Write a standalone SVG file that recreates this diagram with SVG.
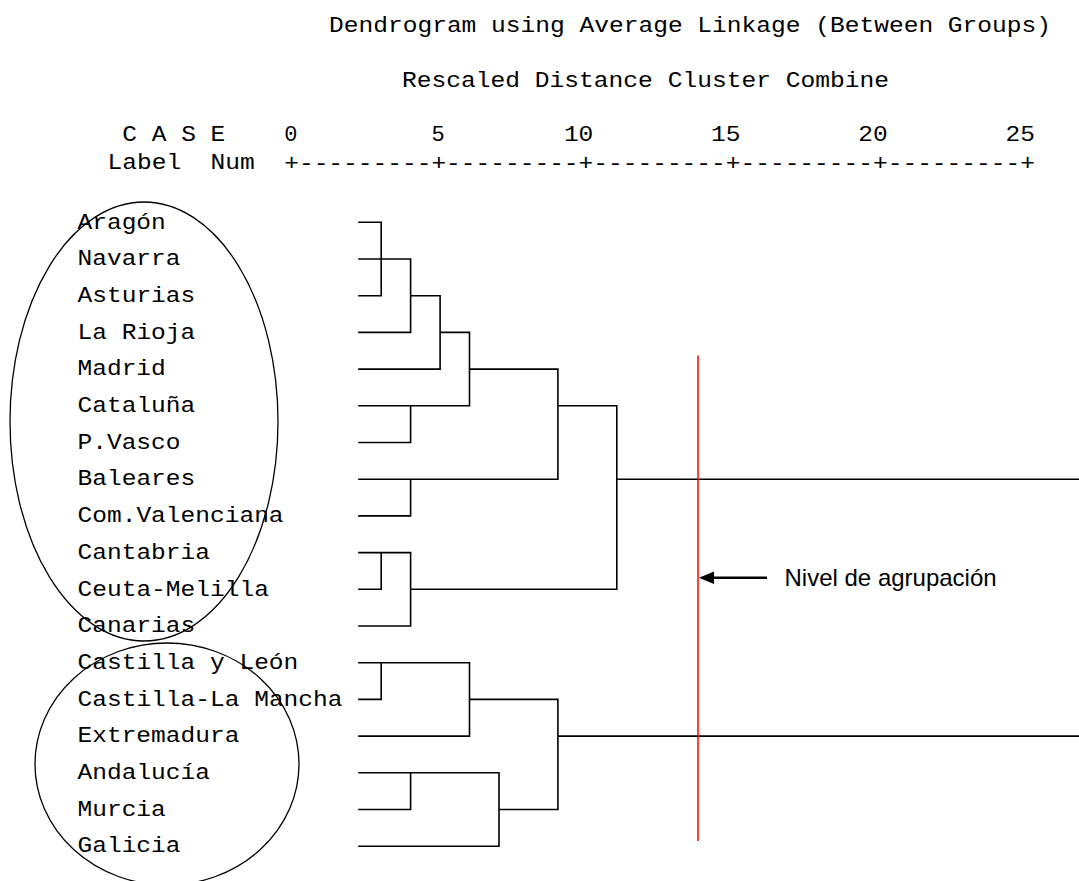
<svg xmlns="http://www.w3.org/2000/svg" width="1079" height="881" viewBox="0 0 1079 881">
<style>
.m{font-family:"Liberation Mono","DejaVu Sans Mono",monospace;font-size:22px;fill:#000;}
.s{font-family:"Liberation Sans",Arial,sans-serif;font-size:24px;fill:#000;}
.ln{fill:none;stroke:#000;stroke-width:1.6;stroke-linecap:square;stroke-linejoin:miter;}
.el{fill:none;stroke:#000;stroke-width:1.3;}
</style>
<rect width="1079" height="881" fill="#fff"/>
<g id="header">
<text class="m" x="329" y="32" textLength="722" lengthAdjust="spacingAndGlyphs">Dendrogram using Average Linkage (Between Groups)</text>
<text class="m" x="402" y="86.5" textLength="487" lengthAdjust="spacingAndGlyphs">Rescaled Distance Cluster Combine</text>
<text class="m" x="122.3" y="141" textLength="103" lengthAdjust="spacingAndGlyphs">C A S E</text>
<text class="m" x="284.2" y="141">0</text>
<text class="m" x="431.4" y="141">5</text>
<text class="m" x="563.9" y="141" textLength="29.4" lengthAdjust="spacingAndGlyphs">10</text>
<text class="m" x="711.1" y="141" textLength="29.4" lengthAdjust="spacingAndGlyphs">15</text>
<text class="m" x="858.3" y="141" textLength="29.4" lengthAdjust="spacingAndGlyphs">20</text>
<text class="m" x="1005.5" y="141" textLength="29.4" lengthAdjust="spacingAndGlyphs">25</text>
<text class="m" x="107.6" y="169" textLength="73.6" lengthAdjust="spacingAndGlyphs">Label</text>
<text class="m" x="210.6" y="169" textLength="44.2" lengthAdjust="spacingAndGlyphs">Num</text>
<text class="m" x="284.2" y="170" textLength="750.7" lengthAdjust="spacingAndGlyphs">+---------+---------+---------+---------+---------+</text>
</g>
<g id="n-aragon"><text class="m" x="77.5" y="228.5" textLength="88.3" lengthAdjust="spacingAndGlyphs">Aragón</text></g>
<g id="n-navarra"><text class="m" x="77.5" y="265.2" textLength="103" lengthAdjust="spacingAndGlyphs">Navarra</text></g>
<g id="n-asturias"><text class="m" x="77.5" y="301.9" textLength="117.8" lengthAdjust="spacingAndGlyphs">Asturias</text></g>
<g id="n-larioja"><text class="m" x="77.5" y="338.6" textLength="117.8" lengthAdjust="spacingAndGlyphs">La Rioja</text></g>
<g id="n-madrid"><text class="m" x="77.5" y="375.3" textLength="88.3" lengthAdjust="spacingAndGlyphs">Madrid</text></g>
<g id="n-cataluna"><text class="m" x="77.5" y="412" textLength="117.8" lengthAdjust="spacingAndGlyphs">Cataluña</text></g>
<g id="n-pvasco"><text class="m" x="77.5" y="448.7" textLength="103" lengthAdjust="spacingAndGlyphs">P.Vasco</text></g>
<g id="n-baleares"><text class="m" x="77.5" y="485.4" textLength="117.8" lengthAdjust="spacingAndGlyphs">Baleares</text></g>
<g id="n-comvalenciana"><text class="m" x="77.5" y="522.1" textLength="206.1" lengthAdjust="spacingAndGlyphs">Com.Valenciana</text></g>
<g id="n-cantabria"><text class="m" x="77.5" y="558.8" textLength="132.5" lengthAdjust="spacingAndGlyphs">Cantabria</text></g>
<g id="n-ceutamelilla"><text class="m" x="77.5" y="595.5" textLength="191.4" lengthAdjust="spacingAndGlyphs">Ceuta-Melilla</text></g>
<g id="n-canarias"><text class="m" x="77.5" y="632.2" textLength="117.8" lengthAdjust="spacingAndGlyphs">Canarias</text></g>
<g id="n-castillayleon"><text class="m" x="77.5" y="668.9" textLength="220.8" lengthAdjust="spacingAndGlyphs">Castilla y León</text></g>
<g id="n-castillalamancha"><text class="m" x="77.5" y="705.6" textLength="265" lengthAdjust="spacingAndGlyphs">Castilla-La Mancha</text></g>
<g id="n-extremadura"><text class="m" x="77.5" y="742.3" textLength="161.9" lengthAdjust="spacingAndGlyphs">Extremadura</text></g>
<g id="n-andalucia"><text class="m" x="77.5" y="779" textLength="132.5" lengthAdjust="spacingAndGlyphs">Andalucía</text></g>
<g id="n-murcia"><text class="m" x="77.5" y="815.7" textLength="88.3" lengthAdjust="spacingAndGlyphs">Murcia</text></g>
<g id="n-galicia"><text class="m" x="77.5" y="852.4" textLength="103" lengthAdjust="spacingAndGlyphs">Galicia</text></g>
<g id="groups">
<ellipse class="el" cx="144" cy="421.5" rx="134" ry="219.5"/>
<ellipse class="el" cx="167" cy="764" rx="132" ry="121"/>
</g>
<g id="connectors">
<path class="ln" d="M359 222.3H381.2V295.7H359M359 259H410.6M359 332.4H410.6V259M410.6 295.7H440.1M359 369.1H440.1V295.7M440.1 332.4H469.5M359 405.8H469.5V332.4M359 442.5H410.6V405.8M469.5 369.1H557.9V479.2H359M359 515.9H410.6V479.2M557.9 405.8H616.8V589.3H410.6M359 552.6H410.6V626H359M359 589.3H381.2V552.6M616.8 479.2H1079"/>
<path class="ln" d="M359 662.7H469.5V736.1H359M359 699.4H381.2V662.7M469.5 699.4H557.9V809.5H499M359 772.8H499V846.2H359M359 809.5H410.6V772.8M557.9 736.1H1079"/>
</g>
<g id="cut-level">
<line x1="698" y1="355.5" x2="698" y2="841" stroke="#ff0000" stroke-width="1.5"/>
<line x1="767" y1="577.7" x2="712" y2="577.7" stroke="#000" stroke-width="2.6"/>
<polygon points="699,577.7 714,571.5 714,583.9" fill="#000"/>
<text class="s" x="784.5" y="585.7">Nivel de agrupación</text>
</g>
</svg>
